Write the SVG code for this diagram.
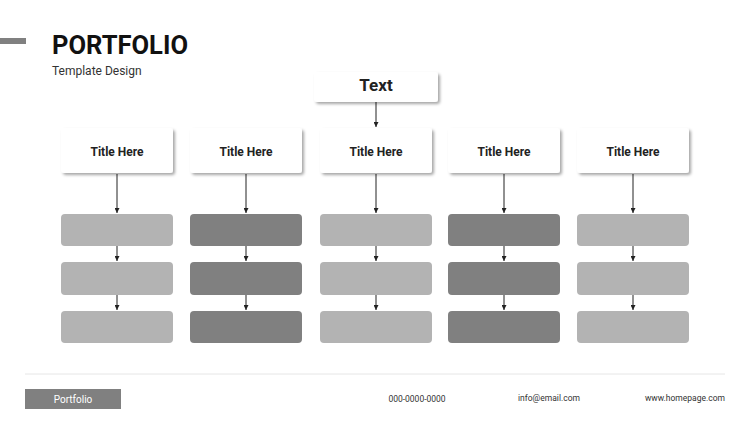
<svg xmlns="http://www.w3.org/2000/svg" width="750" height="422" viewBox="0 0 750 422">
<style>
.card{fill:#ffffff;filter:url(#sh);}
.t{font-family:Roboto,"Liberation Sans",sans-serif;font-weight:bold;fill:#222;text-anchor:middle;}
.light{fill:#b3b3b3;}
.dark{fill:#808080;}
.c{stroke:#222;stroke-width:1;fill:none;marker-end:url(#ah);}
.f{font-family:Roboto,"Liberation Sans",sans-serif;font-size:8.5px;fill:#333;}
</style>
<defs>
<filter id="sh" x="-20%" y="-30%" width="140%" height="170%">
<feDropShadow dx="2" dy="2" stdDeviation="1.5" flood-color="#000" flood-opacity="0.35"/>
</filter>
<marker id="ah" markerWidth="5" markerHeight="5" refX="5" refY="2.5" orient="auto" markerUnits="userSpaceOnUse">
<path d="M0,0 L5,2.5 L0,5 z" fill="#222"/>
</marker>
</defs>
<rect width="750" height="422" fill="#ffffff"/>
<rect x="0" y="38" width="26" height="6" fill="#808080"/>
<text x="52" y="54" font-family="Roboto,'Liberation Sans',sans-serif" font-weight="bold" font-size="26" fill="#111" textLength="136" lengthAdjust="spacingAndGlyphs">PORTFOLIO</text>
<text x="52" y="75" font-family="Roboto,'Liberation Sans',sans-serif" font-size="12" fill="#333">Template Design</text>

<g id="connectors">
<line class="c" x1="376" y1="102" x2="376" y2="127"/>
<line class="c" x1="117" y1="174" x2="117" y2="213"/>
<line class="c" x1="246" y1="174" x2="246" y2="213"/>
<line class="c" x1="376" y1="174" x2="376" y2="213"/>
<line class="c" x1="504" y1="174" x2="504" y2="213"/>
<line class="c" x1="633" y1="174" x2="633" y2="213"/>
<line class="c" x1="117" y1="246" x2="117" y2="261"/>
<line class="c" x1="246" y1="246" x2="246" y2="261"/>
<line class="c" x1="376" y1="246" x2="376" y2="261"/>
<line class="c" x1="504" y1="246" x2="504" y2="261"/>
<line class="c" x1="633" y1="246" x2="633" y2="261"/>
<line class="c" x1="117" y1="295" x2="117" y2="310"/>
<line class="c" x1="246" y1="295" x2="246" y2="310"/>
<line class="c" x1="376" y1="295" x2="376" y2="310"/>
<line class="c" x1="504" y1="295" x2="504" y2="310"/>
<line class="c" x1="633" y1="295" x2="633" y2="310"/>
</g>

<g id="root"><rect class="card" x="314" y="72" width="124" height="30" rx="3"/><text class="t" x="376" y="91" font-size="17">Text</text></g>

<g id="title1"><rect class="card" x="61" y="128" width="112" height="45" rx="3"/><text class="t" x="117" y="156" font-size="12">Title Here</text></g>
<g id="title2"><rect class="card" x="190" y="128" width="112" height="45" rx="3"/><text class="t" x="246" y="156" font-size="12">Title Here</text></g>
<g id="title3"><rect class="card" x="320" y="128" width="112" height="45" rx="3"/><text class="t" x="376" y="156" font-size="12">Title Here</text></g>
<g id="title4"><rect class="card" x="448" y="128" width="112" height="45" rx="3"/><text class="t" x="504" y="156" font-size="12">Title Here</text></g>
<g id="title5"><rect class="card" x="577" y="128" width="112" height="45" rx="3"/><text class="t" x="633" y="156" font-size="12">Title Here</text></g>

<g id="b11"><rect class="light" x="61" y="214" width="112" height="32" rx="4"/></g>
<g id="b12"><rect class="light" x="61" y="262" width="112" height="33" rx="4"/></g>
<g id="b13"><rect class="light" x="61" y="311" width="112" height="32" rx="4"/></g>
<g id="b21"><rect class="dark" x="190" y="214" width="112" height="32" rx="4"/></g>
<g id="b22"><rect class="dark" x="190" y="262" width="112" height="33" rx="4"/></g>
<g id="b23"><rect class="dark" x="190" y="311" width="112" height="32" rx="4"/></g>
<g id="b31"><rect class="light" x="320" y="214" width="112" height="32" rx="4"/></g>
<g id="b32"><rect class="light" x="320" y="262" width="112" height="33" rx="4"/></g>
<g id="b33"><rect class="light" x="320" y="311" width="112" height="32" rx="4"/></g>
<g id="b41"><rect class="dark" x="448" y="214" width="112" height="32" rx="4"/></g>
<g id="b42"><rect class="dark" x="448" y="262" width="112" height="33" rx="4"/></g>
<g id="b43"><rect class="dark" x="448" y="311" width="112" height="32" rx="4"/></g>
<g id="b51"><rect class="light" x="577" y="214" width="112" height="32" rx="4"/></g>
<g id="b52"><rect class="light" x="577" y="262" width="112" height="33" rx="4"/></g>
<g id="b53"><rect class="light" x="577" y="311" width="112" height="32" rx="4"/></g>

<line x1="25" y1="374" x2="725" y2="374" stroke="#e6e6e6" stroke-width="1"/>
<rect x="25" y="389" width="96" height="20" fill="#808080"/>
<text x="73" y="403" font-family="Roboto,'Liberation Sans',sans-serif" font-size="10" fill="#fff" text-anchor="middle">Portfolio</text>
<text class="f" x="417" y="402" text-anchor="middle">000-0000-0000</text>
<text class="f" x="549" y="401" text-anchor="middle">info@email.com</text>
<text class="f" x="725" y="401" text-anchor="end">www.homepage.com</text>
</svg>
